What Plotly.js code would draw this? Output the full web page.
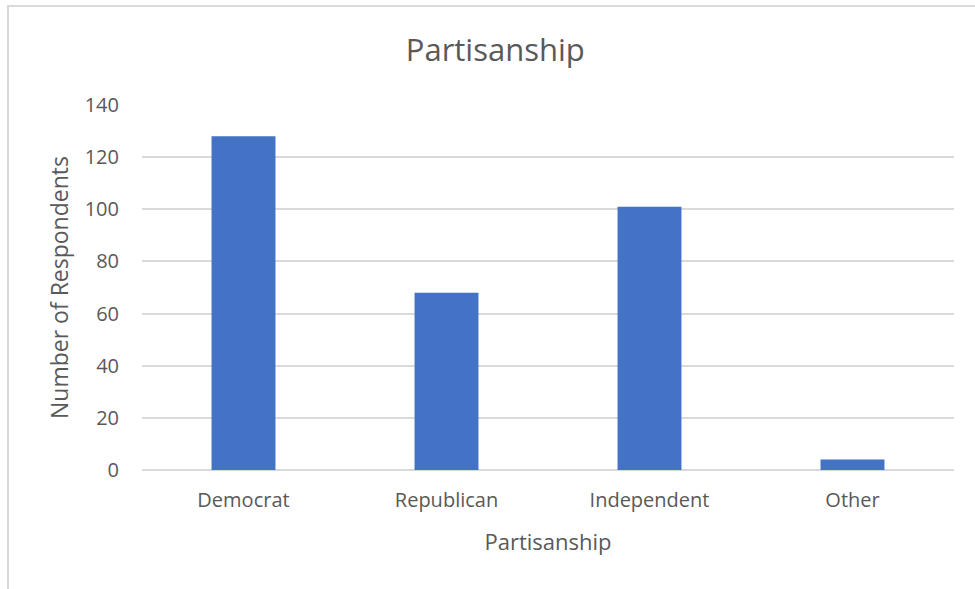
<!DOCTYPE html>
<html>
<head>
<meta charset="utf-8">
<script src="https://cdn.plot.ly/plotly-3.0.1.min.js"></script>
<style>
html,body{margin:0;padding:0;background:#fff;overflow:hidden;}
#chart{position:absolute;left:0;top:0;width:975px;height:589px;}
#frame{position:absolute;left:7px;top:5px;width:1000px;height:700px;border-top:2px solid #d9d9d9;border-left:2px solid #d9d9d9;pointer-events:none;}
</style>
</head>
<body>
<div id="chart"></div>
<div id="frame"></div>
<script>
const categories = ["Democrat", "Republican", "Independent", "Other"];
const respondents = [128, 68, 101, 4];
const yTicks = [0, 20, 40, 60, 80, 100, 120, 140];

const font = "'Open Sans', 'Noto Sans', sans-serif";
const textColor = "#595959";

Plotly.newPlot("chart", [{
  type: "bar",
  x: categories,
  y: respondents,
  marker: {color: "#4472C4"},
  hoverinfo: "x+y"
}], {
  width: 975, height: 589,
  margin: {l: 142, r: 21, t: 105, b: 119},
  paper_bgcolor: "#fff", plot_bgcolor: "#fff",
  bargap: 0.685,
  showlegend: false,
  title: {text: "Partisanship", font: {family: font, size: 31, color: textColor}, x: 0.508, xanchor: "center", y: 0.915, yanchor: "middle", xref: "container"},
  xaxis: {
    title: {text: "Partisanship", font: {family: font, size: 22, color: textColor}, standoff: 22},
    tickfont: {family: font, size: 20, color: textColor},
    showgrid: false, zeroline: false, showline: false, ticks: "", ticklabelstandoff: 16,
    automargin: false
  },
  yaxis: {
    title: {text: "Number of Respondents", font: {family: font, size: 23, color: textColor}, standoff: 9},
    range: [0, 140], tickvals: yTicks,
    tickfont: {family: font, size: 20, color: textColor},
    showgrid: true, gridcolor: "#d9d9d9", gridwidth: 2, zeroline: true, zerolinecolor: "#d9d9d9", zerolinewidth: 2,
    showline: false, ticks: "", ticklabelstandoff: 22,
    automargin: false
  }
}, {displayModeBar: false, staticPlot: false});
</script>
</body>
</html>
